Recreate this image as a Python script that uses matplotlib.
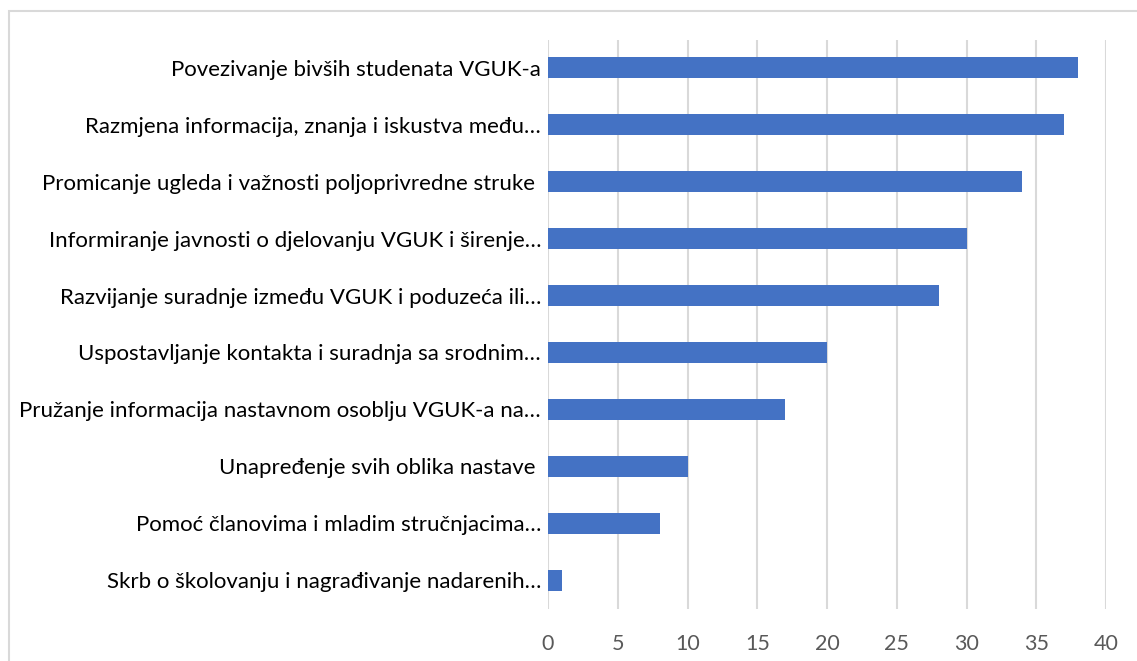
import matplotlib
matplotlib.use("Agg")
import matplotlib.pyplot as plt
from matplotlib.patches import Rectangle

# Data (top to bottom as shown)
categories = [
    "Povezivanje bivših studenata VGUK-a",
    "Razmjena informacija, znanja i iskustva među…",
    "Promicanje ugleda i važnosti poljoprivredne struke ",
    "Informiranje javnosti o djelovanju VGUK i širenje…",
    "Razvijanje suradnje između VGUK i poduzeća ili…",
    "Uspostavljanje kontakta i suradnja sa srodnim…",
    "Pružanje informacija nastavnom osoblju VGUK-a na…",
    "Unapređenje svih oblika nastave ",
    "Pomoć članovima i mladim stručnjacima…",
    "Skrb o školovanju i nagrađivanje nadarenih…",
]
values = [38, 37, 34, 30, 28, 20, 17, 10, 8, 1]
xticks = [0, 5, 10, 15, 20, 25, 30, 35, 40]

plt.rcParams["font.family"] = ["Lato", "DejaVu Sans"]

fig = plt.figure(figsize=(11.37, 6.61), dpi=100)
ax = fig.add_axes([548 / 1137, 52.5 / 661, 558 / 1137, 569 / 661])

# outer chart frame (runs off right and bottom edges)
fig.patches.append(Rectangle((8.5 / 1137, -0.1), 1.2, 650.5 / 661 + 0.1,
                             transform=fig.transFigure, fill=False,
                             edgecolor="#d9d9d9", linewidth=1.5, zorder=0))

y = list(range(len(categories)))[::-1]
ax.barh(y, values, height=0.37, color="#4472C4", zorder=3)

ax.set_xlim(0, 40)
ax.set_ylim(-0.5, len(categories) - 0.5)
ax.set_xticks(xticks)
ax.set_xticklabels([str(t) for t in xticks], fontsize=15.5, color="#595959")
ax.set_yticks(y)
ax.set_yticklabels(categories, fontsize=16, color="#000000")
ax.tick_params(axis="both", length=0)
ax.tick_params(axis="y", pad=5)
ax.tick_params(axis="x", pad=18)
ax.grid(axis="x", color="#d9d9d9", linewidth=1.5, zorder=0)
for s in ax.spines.values():
    s.set_visible(False)

fig.savefig("out.png", dpi=100)
